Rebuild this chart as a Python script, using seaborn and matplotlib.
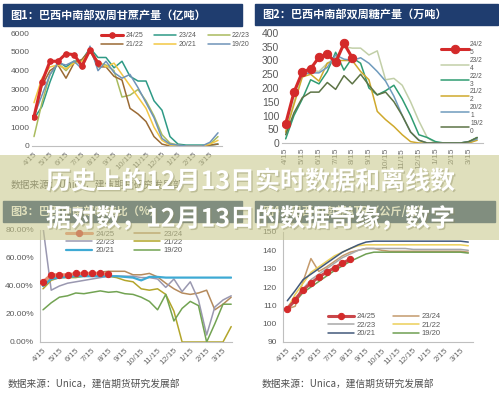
import matplotlib
matplotlib.use("Agg")
import matplotlib.pyplot as plt
import matplotlib.patheffects as pe
from matplotlib.patches import Rectangle
from matplotlib.ticker import PercentFormatter
import seaborn as sns

W, H = 499, 395
SEASONS = ["24/25", "23/24", "22/23", "21/22", "20/21", "19/20"]
MONTHS = ["4/15", "5/15", "6/15", "7/15", "8/15", "9/15",
          "10/15", "11/15", "12/15", "1/15", "2/15", "3/15"]
SOURCE = "数据来源：Unica，建信期货研究发展部"
BANNER_1 = "历史上的12月13日实时数据和离线数"
BANNER_2 = "据对数，12月13日的数据奇缘，数字"

# fig 1: cane crushing (bi-weekly)
cane_2425 = [1550, 3400, 4500, 4500, 4900, 4850, 4250, 5100, 4400]
cane_2324 = [1450, 2100, 3400, 4500, 4200, 4500, 4550, 5200, 4700, 4700, 4150, 4500,
             3700, 3450, 3450, 2400, 1900, 500, 100, 50, 50, 50, 50, 100]
cane_2223 = [500, 2300, 3800, 4400, 4000, 4500, 4350, 5200, 4400, 4300, 4000, 2600,
             2700, 3000, 2400, 1600, 600, 150, 50, 0, 0, 0, 100, 500]
cane_2122 = [1500, 3200, 4000, 4300, 3600, 4400, 4600, 5100, 4200, 4200, 3700, 3500,
             2000, 1700, 1300, 500, 100, 0, 0, 0, 0, 0, 50, 100]
cane_2021 = [2300, 3600, 4200, 4300, 4100, 4400, 4500, 5000, 4500, 4200, 4400, 3800,
             3200, 2600, 2000, 1000, 300, 50, 0, 0, 0, 0, 100, 300]
cane_1920 = [1600, 2700, 3800, 4400, 4300, 4500, 4100, 5300, 4000, 4500, 3900, 3600,
             3800, 3100, 2300, 1500, 400, 100, 50, 0, 0, 0, 200, 700]

# fig 2: sugar output
sugar_2425 = [70, 185, 258, 270, 312, 323, 293, 362, 310]
sugar_2324 = [40, 150, 245, 265, 260, 290, 310, 350, 345, 345, 320, 335,
              230, 235, 210, 150, 80, 20, 0, 0, 0, 0, 0, 15]
sugar_2223 = [15, 100, 160, 230, 215, 260, 330, 265, 310, 290, 200, 175,
              190, 210, 160, 100, 30, 20, 5, 0, 0, 0, 5, 20]
sugar_2122 = [40, 140, 240, 250, 225, 290, 300, 300, 300, 260, 230, 115,
              85, 60, 30, 5, 0, 0, 0, 0, 0, 0, 0, 10]
sugar_2021 = [60, 180, 250, 255, 255, 275, 320, 305, 300, 310, 290, 260,
              225, 170, 100, 40, 10, 0, 0, 0, 0, 0, 5, 15]
sugar_1920 = [30, 110, 165, 185, 185, 220, 195, 245, 215, 250, 210, 175,
              185, 150, 100, 40, 10, 0, 0, 0, 0, 0, 5, 20]

# fig 3: sugar mix
mix_2425 = [0.43, 0.48, 0.48, 0.48, 0.49, 0.49, 0.49, 0.49, 0.485]
mix_2324 = [0.40, 0.46, 0.47, 0.47, 0.48, 0.48, 0.49, 0.50, 0.505, 0.505, 0.505, 0.48,
            0.48, 0.49, 0.465, 0.42, 0.38, 0.35, 0.34, 0.35, 0.37, 0.23, 0.27, 0.32]
mix_2223 = [0.82, 0.37, 0.40, 0.42, 0.43, 0.44, 0.45, 0.46, 0.47, 0.47, 0.47, 0.47,
            0.46, 0.46, 0.45, 0.39, 0.45, 0.36, 0.43, 0.30, 0.05, 0.25, 0.30, 0.33]
mix_2122 = [0.38, 0.44, 0.46, 0.46, 0.46, 0.47, 0.47, 0.47, 0.47, 0.46, 0.44, 0.43,
            0.38, 0.37, 0.38, 0.34, 0.22, 0.0, 0.0, 0.0, 0.0, 0.0, 0.0, 0.11]
mix_2021 = [0.40, 0.45, 0.46, 0.465, 0.47, 0.47, 0.47, 0.47, 0.47, 0.47, 0.465, 0.46,
            0.44, 0.465, 0.465, 0.46, 0.46, 0.46, 0.46, 0.46, 0.46, 0.46, 0.46, 0.46]
mix_1920 = [0.23, 0.28, 0.32, 0.33, 0.35, 0.345, 0.355, 0.365, 0.355, 0.36, 0.345, 0.34,
            0.32, 0.29, 0.23, 0.34, 0.15, 0.24, 0.29, 0.26, 0.0, 0.13, 0.27, 0.27]

# fig 4: ATR
atr_2425 = [108, 113, 118.5, 122, 125.5, 128, 130.5, 133, 135.2]
atr_2324 = [108, 109.5, 123, 135.5, 128.5, 131, 134, 137, 139, 140, 141, 141,
            140, 139.5, 139.5, 139.5, 139.5, 139.5, 139.5, 139.5, 139.5, 139.5, 139.5, 139]
atr_2223 = [109, 114, 119, 124, 127, 130, 133, 136, 138, 140, 141, 141,
            141, 141, 141, 141, 140.5, 140.5, 140.5, 140.5, 140.5, 140.5, 140.5, 140]
atr_2122 = [108, 116, 122, 128, 131, 134, 137, 139, 141, 142.5, 143, 143,
            143, 143, 143, 143, 143, 143, 143, 143, 143, 143, 143, 142.5]
atr_2021 = [112.5, 118, 124, 127, 130, 133, 136, 139, 141, 143, 144.5, 145,
            145, 145, 145, 145, 145, 145, 145, 145, 145, 145, 145, 144.5]
atr_1920 = [108, 112, 117, 120, 123, 126, 129, 131.5, 134, 136, 138, 139,
            139, 139, 139, 139, 139, 139, 139, 139, 139, 139, 139, 138.5]

sns.set_style("white")
plt.rcParams["font.family"] = ["Liberation Sans", "Noto Sans CJK SC", "DejaVu Sans"]

fig = plt.figure(figsize=(W / 100, H / 100), dpi=100)
fig.patch.set_facecolor("white")


def add_ax(l, t, r, b):
    return fig.add_axes([l / W, 1 - b / H, (r - l) / W, (b - t) / H])


def title_bar(l, t, r, b, text):
    fig.add_artist(Rectangle((l / W, 1 - b / H), (r - l) / W, (b - t) / H,
                             transform=fig.transFigure, color="#1f3d6f", zorder=5))
    fig.text((l + 7) / W, 1 - (t + b) / 2 / H, text, color="white", fontsize=8,
             fontweight="bold", va="center", zorder=6,
             family=["Noto Sans CJK SC", "DejaVu Sans"])


def draw_lines(ax, series, colors, red_line, ms):
    for season, vals in zip(SEASONS, series):
        if season == "24/25":
            kw = dict(color=red_line, lw=2.2, marker="o", ms=ms,
                      mfc="#d42a2a", mec="#d42a2a", zorder=3)
        else:
            kw = dict(color=colors[season], lw=1.1, zorder=2)
        sns.lineplot(x=list(range(len(vals))), y=vals, ax=ax, label=season, **kw)


def style_axes(ax, ylim, yticks, xlim, rot, left_spine, ysize=6):
    ax.set_xlim(*xlim)
    ax.set_ylim(*ylim)
    ax.set_yticks(yticks)
    ax.set_xticks(range(24))
    ax.set_xticklabels([MONTHS[i // 2] if i % 2 == 0 else "" for i in range(24)])
    for side in ["top", "right"]:
        ax.spines[side].set_visible(False)
    ax.spines["left"].set_visible(left_spine)
    for side in ["left", "bottom"]:
        ax.spines[side].set_color("#bfbfbf")
        ax.spines[side].set_linewidth(0.8)
    ax.tick_params(axis="x", length=2.5, width=0.6, color="#bfbfbf",
                   labelsize=6, labelcolor="#6a6a6a", pad=1)
    ax.tick_params(axis="y", length=2.5 if left_spine else 0, width=0.6,
                   color="#bfbfbf", labelsize=ysize, labelcolor="#595959", pad=2)
    for lab in ax.get_xticklabels():
        lab.set_rotation(rot)
        if rot == 45:
            lab.set_ha("right")
            lab.set_rotation_mode("anchor")
    ax.set_xlabel("")
    ax.set_ylabel("")
    ax.grid(False)


def ordered_legend(ax, order, labels=None, **kw):
    handles, labs = ax.get_legend_handles_labels()
    lookup = dict(zip(labs, handles))
    hs = [lookup[s] for s in order]
    ls = labels if labels is not None else order
    leg = ax.legend(hs, ls, frameon=False, **kw)
    for t in leg.get_texts():
        t.set_color("#595959")
    return leg


# ---- panel 1
ax1 = add_ax(32, 33, 222, 146)
draw_lines(ax1, [cane_2425, cane_2324, cane_2223, cane_2122, cane_2021, cane_1920],
           {"23/24": "#2e9a86", "22/23": "#a9bb5e", "21/22": "#9a6a34",
            "20/21": "#f2c744", "19/20": "#6f93b8"}, "#d42a2a", 4)
style_axes(ax1, (0, 6000), range(0, 6001, 1000), (-0.25, 23.5), 45, False)
ordered_legend(ax1, ["24/25", "21/22", "23/24", "20/21", "22/23", "19/20"],
               ncol=3, loc="upper left", bbox_to_anchor=(0.33, 1.06), fontsize=5,
               handlelength=3.2, columnspacing=1.6, labelspacing=0.25, handletextpad=0.3)
title_bar(3, 4, 242, 26, "图1：巴西中南部双周甘蔗产量（亿吨）")
fig.text(11 / W, 1 - 185 / H, SOURCE, fontsize=7, color="#505050", va="center",
         family=["Noto Sans CJK SC", "DejaVu Sans"])

# ---- panel 2
ax2 = add_ax(282, 33, 483, 143)
draw_lines(ax2, [sugar_2425, sugar_2324, sugar_2223, sugar_2122, sugar_2021, sugar_1920],
           {"23/24": "#c2cfa8", "22/23": "#2f9c72", "21/22": "#cfa92c",
            "20/21": "#6f9bbd", "19/20": "#5d7446"}, "#d42a2a", 6)
style_axes(ax2, (0, 400), range(0, 401, 50), (-0.44, 23.7), 90, False, ysize=7.5)
ordered_legend(ax2, SEASONS, labels=[s[:4] + "\n" + s[4:] for s in SEASONS],
               loc="upper left", bbox_to_anchor=(0.76, 0.98), fontsize=4.8,
               handlelength=4.2, labelspacing=0.1, handletextpad=0.2)
title_bar(255, 4, 498, 25, "图2：巴西中南部双周糖产量（万吨）")

# ---- panel 3
ax3 = add_ax(40, 230, 232, 342)
draw_lines(ax3, [mix_2425, mix_2324, mix_2223, mix_2122, mix_2021, mix_1920],
           {"23/24": "#b58a5c", "22/23": "#9a98b0", "21/22": "#b3a52a",
            "20/21": "#3eaad4", "19/20": "#72a352"}, "#e88a6e", 4.5)
ax3.lines[4].set_linewidth(1.6)
style_axes(ax3, (0, 0.8), [0, 0.2, 0.4, 0.6, 0.8], (-0.37, 23.1), 45, True)
ax3.yaxis.set_major_formatter(PercentFormatter(1.0, decimals=2))
ordered_legend(ax3, ["24/25", "22/23", "20/21", "23/24", "21/22", "19/20"],
               ncol=2, loc="upper left", bbox_to_anchor=(0.1, 1.06), fontsize=5.5,
               handlelength=3.4, columnspacing=2.6, labelspacing=0.15, handletextpad=0.4)
title_bar(3, 201, 242, 222, "图3：巴西中南部制糖比（%）")
fig.text(8 / W, 1 - 384 / H, SOURCE, fontsize=7, color="#505050", va="center",
         family=["Noto Sans CJK SC", "DejaVu Sans"])

# ---- panel 4
ax4 = add_ax(283, 232, 473, 342)
draw_lines(ax4, [atr_2425, atr_2324, atr_2223, atr_2122, atr_2021, atr_1920],
           {"23/24": "#c49a6c", "22/23": "#a8a8a8", "21/22": "#ecd058",
            "20/21": "#42597a", "19/20": "#6f9f52"}, "#c9474a", 4.5)
style_axes(ax4, (90, 150), range(90, 151, 10), (-0.55, 23.6), 45, True)
ordered_legend(ax4, ["24/25", "22/23", "20/21", "23/24", "21/22", "19/20"],
               ncol=2, loc="lower left", bbox_to_anchor=(0.2, -0.02), fontsize=5.5,
               handlelength=3.4, columnspacing=2.2, labelspacing=0.15, handletextpad=0.4)
title_bar(255, 201, 495, 222, "图4：巴西中南部ATR（公斤/吨）")
fig.text(262 / W, 1 - 384 / H, SOURCE, fontsize=7, color="#505050", va="center",
         family=["Noto Sans CJK SC", "DejaVu Sans"])

# ---- banner overlay
fig.add_artist(Rectangle((0, 1 - 240 / H), 1, 85 / H, transform=fig.transFigure,
                         color="#c9c98c", alpha=0.58, zorder=10, lw=0))
for y, line in [(182, BANNER_1), (219, BANNER_2)]:
    fig.text(46 / W, 1 - y / H, line, fontsize=18, fontweight="bold", color="white",
             va="center", zorder=11, family=["Noto Sans CJK SC", "DejaVu Sans"],
             path_effects=[pe.withSimplePatchShadow(offset=(1, -1),
                                                    shadow_rgbFace="#8a8a60", alpha=0.4)])

fig.savefig("out.png", dpi=100)
